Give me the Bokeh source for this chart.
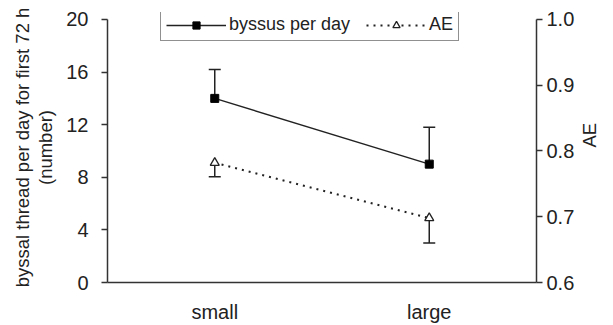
import math
from bokeh.plotting import figure
from bokeh.models import Range1d, LinearAxis, FixedTicker, Legend, LegendItem, NumeralTickFormatter
from bokeh.embed import file_html
from bokeh.resources import INLINE

categories = ["small", "large"]
byssus = [14.0, 9.0]
byssus_upper = [16.2, 11.8]
ae = [0.782, 0.698]
ae_lower = [0.761, 0.660]
left_ticks = [0, 4, 8, 12, 16, 20]
right_ticks = [0.6, 0.7, 0.8, 0.9, 1.0]

FONT = "Liberation Sans"
TXT = "#222222"
HEAD = 0.53  # headroom above the top tick so the legend can sit above the axes' end

p = figure(width=613, height=325, x_range=categories, y_range=Range1d(0, 20 + HEAD),
           output_backend="svg", toolbar_location=None,
           min_border_left=107, min_border_right=76, min_border_top=12, min_border_bottom=42)
p.extra_y_ranges = {"ae": Range1d(0.6, 1.0 + HEAD * 0.02)}
p.grid.visible = False
p.outline_line_color = None


def style_axis(ax):
    ax.major_label_text_font = FONT
    ax.major_label_text_font_size = "20px"
    ax.major_label_text_color = TXT
    ax.axis_label_text_font = FONT
    ax.axis_label_text_font_size = "18.5px"
    ax.axis_label_text_font_style = "normal"
    ax.axis_label_text_color = TXT
    ax.axis_line_width = 1.5
    ax.axis_line_color = "#333333"
    ax.major_tick_line_width = 1.5
    ax.major_tick_line_color = "#333333"
    ax.major_tick_out = 6
    ax.major_tick_in = 0
    ax.minor_tick_out = 0
    ax.minor_tick_in = 0


# left axis
ya = p.yaxis[0]
style_axis(ya)
ya.ticker = FixedTicker(ticks=left_ticks)
ya.bounds = (0, 20)
ya.axis_label = "byssal thread per day for first 72 h\n(number)"
ya.axis_label_text_line_height = 1.12
ya.axis_label_standoff = 7
ya.major_label_standoff = 13

xa = p.xaxis[0]
style_axis(xa)
xa.major_tick_line_color = None
xa.major_label_standoff = 12

ra = LinearAxis(y_range_name="ae", ticker=FixedTicker(ticks=right_ticks),
                formatter=NumeralTickFormatter(format="0.0"), bounds=(0.6, 1.0))
style_axis(ra)
ra.axis_label = "AE"
ra.axis_label_orientation = math.pi / 2
ra.axis_label_standoff = 12
ra.major_label_standoff = 4
p.add_layout(ra, "right")

# byssus series
p.segment(x0=categories, y0=byssus, x1=categories, y1=byssus_upper, line_color="#222222", line_width=1.5)
p.scatter(x=categories, y=byssus_upper, marker="dash", size=12, line_color="#222222", line_width=1.5)
r1 = p.line(x=categories, y=byssus, line_color="#222222", line_width=1.5)
r1m = p.scatter(x=categories, y=byssus, marker="square", size=8, fill_color="black", line_color="black")

# AE series
p.segment(x0=categories, y0=ae, x1=categories, y1=ae_lower, line_color="#222222", line_width=1.5, y_range_name="ae")
p.scatter(x=categories, y=ae_lower, marker="dash", size=12, line_color="#222222", line_width=1.5, y_range_name="ae")
r2 = p.line(x=categories, y=ae, line_color="#222222", line_width=2, line_dash="2 5", y_range_name="ae")
r2m = p.scatter(x=categories, y=ae, marker="triangle", size=9, fill_color="white", line_color="#222222",
                line_width=1.3, y_range_name="ae")

legend = Legend(items=[LegendItem(label="byssus per day", renderers=[r1, r1m]),
                       LegendItem(label="AE", renderers=[r2, r2m])],
                orientation="horizontal", location=(53, 241))
legend.border_line_color = "#222222"
legend.border_line_width = 1.5
legend.label_text_font = FONT
legend.label_text_font_size = "18px"
legend.label_text_color = TXT
legend.glyph_width = 60
legend.glyph_height = 18
legend.padding = 5
legend.spacing = 16
legend.label_standoff = 3
legend.margin = 0
p.add_layout(legend, "center")

open("out.html", "w").write(file_html(p, INLINE))
